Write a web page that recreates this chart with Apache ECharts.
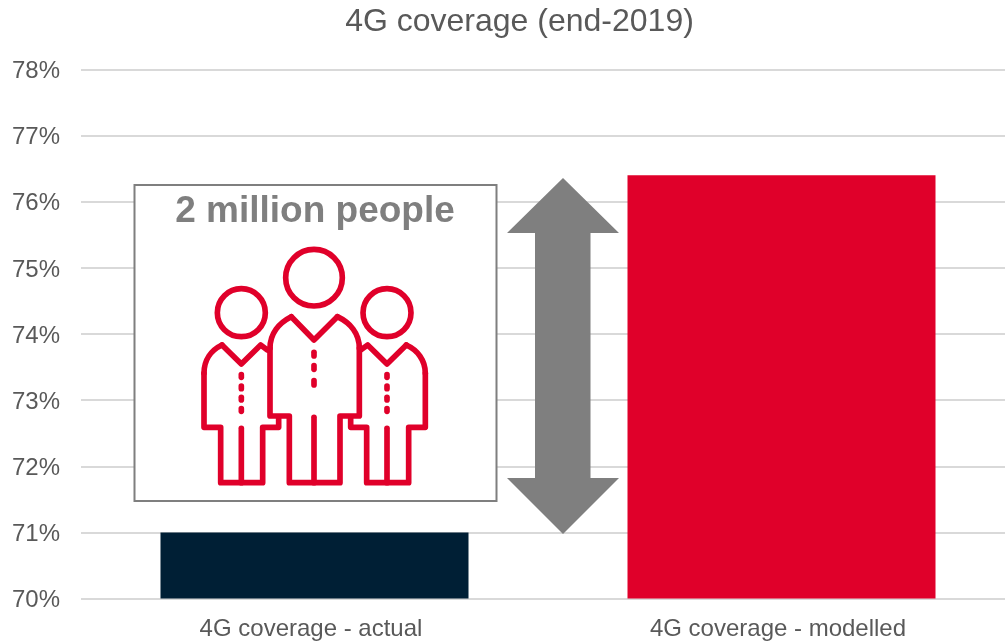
<!DOCTYPE html>
<html>
<head>
<meta charset="utf-8">
<style>html,body{margin:0;padding:0;background:#fff;overflow:hidden}#chart{width:1005px;height:641px}</style>
<script src="https://cdn.jsdelivr.net/npm/echarts@6/dist/echarts.min.js"></script>
</head>
<body>
<div id="chart"></div>
<script>
// 4G coverage at end-2019: measured against modelled
const categories = ['4G coverage - actual', '4G coverage - modelled'];
const coverage = [71.0, 76.4];
const barColors = ['#001f35', '#e0002a'];
const chartTitle = '4G coverage (end-2019)';
const calloutText = '2 million people';

const GREY = '#7f7f7f';
const RED = '#e0002a';
const TEXT = '#595959';
const FONT = '"Liberation Sans", Arial, sans-serif';

// Outline icon of three people, authored on a 1140 x 1020 canvas
const iconStyle = { fill: null, stroke: RED, lineWidth: 17, lineCap: 'round', lineJoin: 'round' };
const iconLines = [
  [[484, 440], [552, 510], [622, 440]],
  [[688, 535], [688, 738], [630, 738], [630, 938], [478, 938], [478, 738], [420, 738], [420, 535]],
  [[552, 742], [552, 938]],
  [[412, 540], [392, 525], [334, 582], [276, 525]],
  [[222, 610], [222, 772], [272, 772], [272, 938], [398, 938], [398, 772], [446, 772], [446, 745]],
  [[334, 775], [334, 938]],
  [[692, 540], [713, 525], [771, 582], [829, 525]],
  [[886, 610], [886, 772], [836, 772], [836, 938], [710, 938], [710, 772], [662, 772], [662, 745]],
  [[771, 775], [771, 938]],
  [[552, 547], [552, 558]], [[552, 587], [552, 598]], [[552, 632], [552, 645]],
  [[334, 614], [334, 622]], [[334, 648], [334, 656]], [[334, 682], [334, 690]], [[334, 716], [334, 724]],
  [[771, 614], [771, 622]], [[771, 648], [771, 656]], [[771, 682], [771, 690]], [[771, 716], [771, 724]]
];
// Shoulders: start, first control, second control, end
const iconShoulders = [
  [622, 440, 660, 458, 688, 490, 688, 535],
  [420, 535, 420, 490, 448, 458, 484, 440],
  [276, 525, 244, 540, 222, 570, 222, 610],
  [829, 525, 862, 540, 886, 570, 886, 610]
];
const iconHeads = [[552, 323, 85], [334, 428, 72], [771, 428, 72]];

const labelFont = { fontFamily: FONT, fontSize: 24, color: TEXT };

const chart = echarts.init(document.getElementById('chart'), null, { renderer: 'canvas' });
chart.setOption({
  animation: false,
  backgroundColor: '#fff',
  title: {
    text: chartTitle,
    left: 514.5,
    top: 1,
    textAlign: 'center',
    textStyle: { fontFamily: FONT, fontSize: 32, fontWeight: 'normal', color: TEXT }
  },
  // The plot runs slightly past the window's right edge
  grid: { left: 81, top: 69.5, width: 934, height: 529, outerBoundsMode: 'none' },
  xAxis: {
    type: 'category',
    data: categories,
    axisLine: { show: false },
    axisTick: { show: false },
    axisLabel: {
      ...labelFont,
      margin: 19,
      formatter: '{c|{value}}',
      rich: { c: { ...labelFont, padding: [0, 7, 0, 0] } }
    }
  },
  yAxis: {
    type: 'value',
    min: 70,
    max: 78,
    interval: 1,
    axisLine: { show: false },
    axisTick: { show: false },
    axisLabel: {
      ...labelFont,
      margin: 21,
      formatter: '{v|{value}%}',
      rich: { v: { ...labelFont, padding: [4, 0, 0, 0] } }
    },
    splitLine: { lineStyle: { color: '#d9d9d9', width: 2 } }
  },
  series: [{
    type: 'bar',
    barWidth: 308,
    data: coverage.map((v, i) => ({ value: v, itemStyle: { color: barColors[i] } }))
  }],
  graphic: [
    {
      type: 'rect', z: 10,
      shape: { x: 134.5, y: 185, width: 362, height: 316 },
      style: { fill: '#fff', stroke: GREY, lineWidth: 2 }
    },
    {
      type: 'text', z: 11, x: 315, y: 212,
      style: {
        text: calloutText, fill: GREY, font: 'bold 37px ' + FONT,
        textAlign: 'center', textVerticalAlign: 'middle'
      }
    },
    {
      type: 'group', z: 11, x: 130, y: 170, scaleX: 1 / 3, scaleY: 1 / 3,
      children: [
        ...iconHeads.map(([cx, cy, r]) => ({ type: 'circle', z: 11, shape: { cx, cy, r }, style: iconStyle })),
        ...iconLines.map(points => ({ type: 'polyline', z: 11, shape: { points }, style: iconStyle })),
        ...iconShoulders.map(([x1, y1, cpx1, cpy1, cpx2, cpy2, x2, y2]) => ({
          type: 'bezierCurve', z: 11,
          shape: { x1, y1, cpx1, cpy1, cpx2, cpy2, x2, y2 },
          style: iconStyle
        }))
      ]
    },
    {
      // Double-headed arrow marking the gap between the two bars
      type: 'polygon', z: 10,
      shape: { points: [[563, 178], [619, 233], [590.5, 233], [590.5, 478], [619, 478], [563, 534], [507, 478], [535, 478], [535, 233], [507, 233]] },
      style: { fill: GREY }
    }
  ]
});
</script>
</body>
</html>
